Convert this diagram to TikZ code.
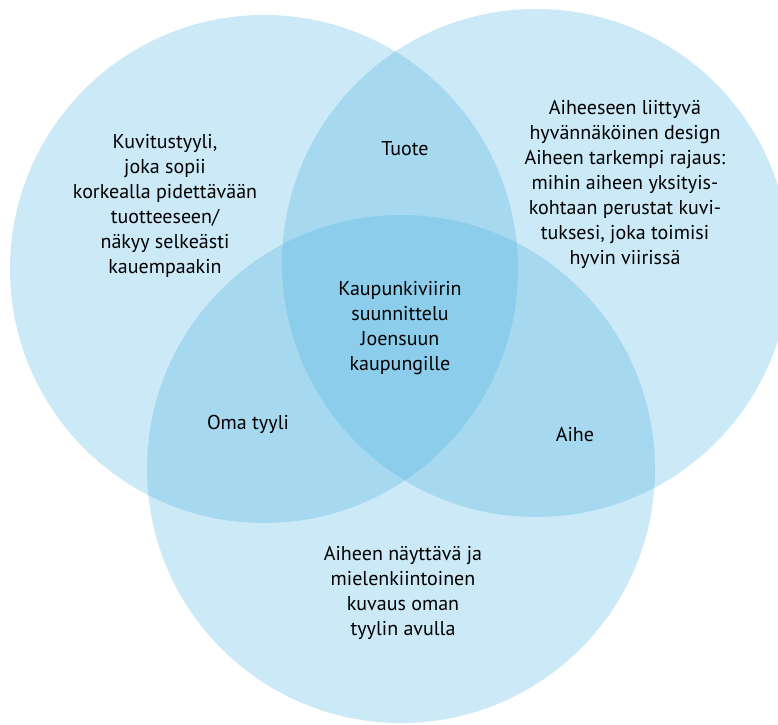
\documentclass[tikz,border=0pt]{standalone}
\usepackage{fontspec}
\setmainfont{PT Sans}
\usepackage{tikz}
\definecolor{setblue}{RGB}{76,178,224}

\begin{document}
\begin{tikzpicture}[
                x=1pt, y=1pt,
                set/.style={circle, inner sep=0pt, minimum size=508pt,
                    fill=setblue, fill opacity=0.29},
                label/.style={align=center, inner sep=0pt,
                    font=\fontsize{20}{25}\selectfont}]
            \useasboundingbox (0,0) rectangle (778,724);
            \clip (0,0) rectangle (778,724);
            \node[set] (tyyli) at (264,455) {};
            \node[set] (aihe) at (536,461) {};
            \node[set] (kuvaus) at (401,255) {};
            \node[label] (tyyli_txt) at (165,518) {Kuvitustyyli,\\joka sopii\\korkealla pidettävään\\tuotteeseen/\\näkyy selkeästi\\kauempaakin};
            \node[label] (aihe_txt) at (625,540) {Aiheeseen liittyvä\\hyvännäköinen design\\Aiheen tarkempi rajaus:\\mihin aiheen yksityis-\\kohtaan perustat kuvi-\\tuksesi, joka toimisi\\hyvin viirissä};
            \node[label] (tuote) at (405,575) {Tuote};
            \node[label] (keskus) at (400,396) {Kaupunkiviirin\\suunnittelu\\Joensuun\\kaupungille};
            \node[label] (oma) at (248,300) {Oma tyyli};
            \node[label] (aihe_lbl) at (575,289) {Aihe};
            \node[label] (kuvaus_txt) at (403,131) {Aiheen näyttävä ja\\mielenkiintoinen\\kuvaus oman\\tyylin avulla};
        \end{tikzpicture}
\end{document}
